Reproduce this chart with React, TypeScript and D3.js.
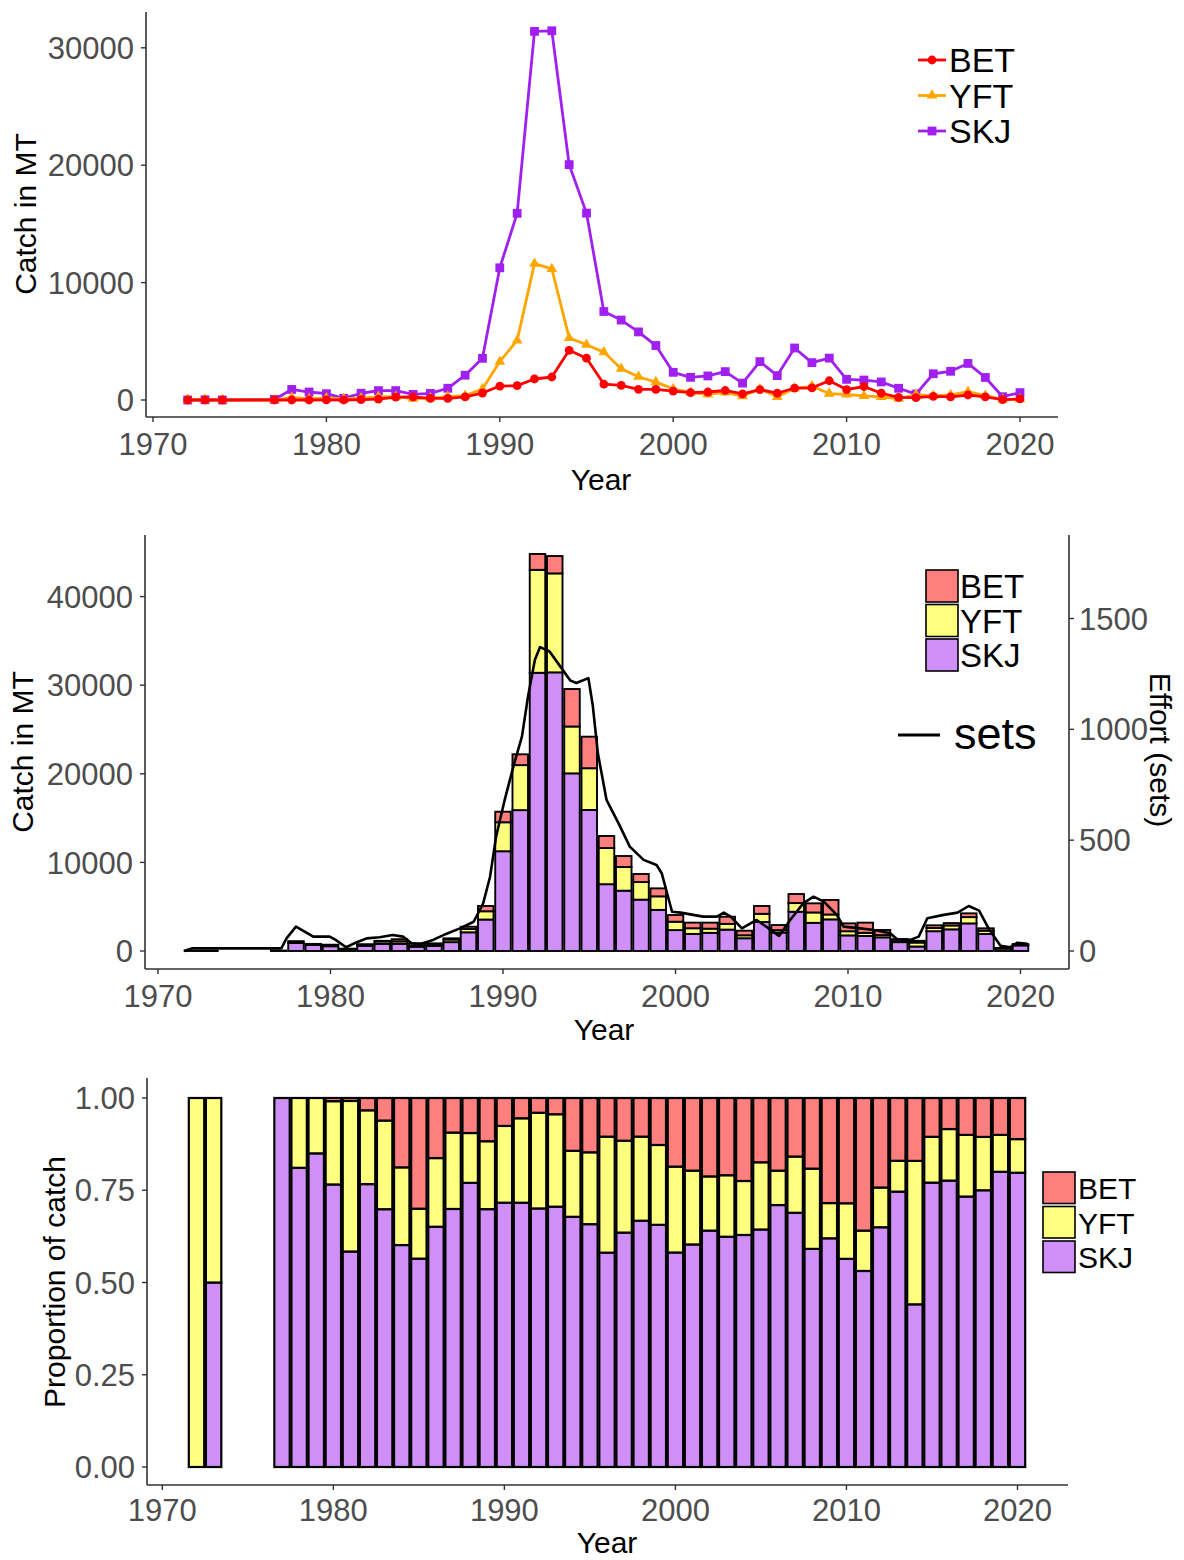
import React from "react";
import * as d3 from "d3";

const years = [1972,1973,1974,1977,1978,1979,1980,1981,1982,1983,1984,1985,1986,1987,1988,1989,1990,1991,1992,1993,1994,1995,1996,1997,1998,1999,2000,2001,2002,2003,2004,2005,2006,2007,2008,2009,2010,2011,2012,2013,2014,2015,2016,2017,2018,2019,2020];
const BET = [0,0,0,0,0,0,6,2,25,70,250,255,140,134,260,595,1190,1220,1790,1960,4230,3560,1360,1240,910,900,755,630,680,810,515,885,577,1020,1030,1640,890,1150,575,228,196,305,265,425,270,35,88];
const YFT = [30,20,0,0,210,120,158,102,150,275,280,115,160,296,370,935,3270,5080,11620,11170,5290,4710,4080,2670,1980,1530,945,640,470,645,335,925,273,980,1170,550,470,350,255,112,447,360,440,710,370,35,72];
const SKJ = [0,20,0,50,900,680,536,146,575,800,800,480,560,1000,2110,3550,11260,15900,31400,31450,20050,15920,7540,6810,5800,4640,2360,1930,2050,2415,1440,3270,2080,4430,3180,3570,1760,1700,1540,1000,507,2235,2445,3115,1920,280,630];

const effortYears = [1971.5,1972.0,1977.15,1977.45,1978.0,1978.5,1979.0,1979.95,1980.3,1980.9,1981.6,1982.1,1982.85,1983.6,1984.2,1984.7,1985.2,1985.95,1986.7,1987.5,1988.3,1988.85,1989.25,1989.6,1990.1,1990.6,1991.1,1991.45,1991.85,1992.15,1992.7,1993.4,1993.9,1994.25,1994.95,1995.2,1995.5,1996.0,1996.7,1997.35,1998.15,1998.9,1999.2,1999.8,2000.3,2001.6,2002.4,2002.8,2003.2,2003.85,2004.7,2005.4,2006.0,2006.65,2007.4,2008.0,2008.6,2009.35,2009.75,2010.7,2011.5,2012.45,2012.85,2013.6,2014.1,2014.6,2015.55,2016.35,2017.0,2017.6,2018.15,2018.85,2019.4,2019.8,2020.4];
const effortSets = [0,12,12,57,110,87,65,65,50,17,42,57,62,72,65,35,32,50,77,102,132,215,335,516,682,832,968,1148,1314,1371,1351,1275,1220,1209,1231,1110,892,682,576,471,411,388,351,177,173,155,155,173,155,102,140,102,68,140,215,245,223,163,110,102,95,80,53,50,65,148,163,173,203,182,102,23,17,37,32];

const xTicks = [1970,1980,1990,2000,2010,2020];
const topYTicks = [0,10000,20000,30000];
const midYTicks = [0,10000,20000,30000,40000];
const setsTicks = [0,500,1000,1500];
const propTicks = [0,0.25,0.5,0.75,1];
const species = ["BET","YFT","SKJ"];

const FONT = "'Liberation Sans', Arial, Helvetica, sans-serif";
const lineCol: Record<string,string> = { BET: "#FF0000", YFT: "#FFA500", SKJ: "#A020F0" };
const fillCol: Record<string,string> = { BET: "#FF7F7F", YFT: "#FFFF7F", SKJ: "#CF8FF7" };
const AX = "#333333";
const TXT = "#4D4D4D";

export default function App() {
  const xTop = d3.scaleLinear().domain([1970, 2020]).range([153, 1020]);
  const yTop = d3.scaleLinear().domain([0, 30000]).range([400, 47.8]);
  const xMid = d3.scaleLinear().domain([1970, 2020]).range([158, 1020.5]);
  const yMid = d3.scaleLinear().domain([0, 40000]).range([951, 596.6]);
  const ySets = d3.scaleLinear().domain([0, 1500]).range([951, 618.5]);
  const xBot = d3.scaleLinear().domain([1970, 2020]).range([162.3, 1017.5]);
  const yBot = d3.scaleLinear().domain([0, 1]).range([1467, 1098]);

  const seriesVals: Record<string, number[]> = { BET, YFT, SKJ };
  const rows = years.map((y, i) => ({ year: y, BET: BET[i], YFT: YFT[i], SKJ: SKJ[i] }));
  const stack = d3.stack<any>().keys(["SKJ", "YFT", "BET"]);
  const stacked = stack(rows);
  const propRows = rows
    .filter((r) => r.BET + r.YFT + r.SKJ > 0)
    .map((r) => {
      const t = r.BET + r.YFT + r.SKJ;
      return { year: r.year, BET: r.BET / t, YFT: r.YFT / t, SKJ: r.SKJ / t };
    });
  const propStacked = stack(propRows);

  const lineTop = (vals: number[]) =>
    d3.line<number>().x((_, i) => xTop(years[i])).y((d) => yTop(d))(vals) || "";
  const effortLine =
    d3.line<number>().x((_, i) => xMid(effortYears[i])).y((d) => ySets(d))(effortSets) || "";

  const tri = d3.symbol().type(d3.symbolTriangle).size(50)() || "";

  const marker = (sp: string, cx: number, cy: number, key: any) => {
    if (sp === "BET") return <circle key={key} cx={cx} cy={cy} r={4.4} fill={lineCol.BET} />;
    if (sp === "YFT") return <path key={key} d={tri} transform={`translate(${cx},${cy})`} fill={lineCol.YFT} />;
    return <rect key={key} x={cx - 4.4} y={cy - 4.4} width={8.8} height={8.8} fill={lineCol.SKJ} />;
  };

  const xAxis = (scale: any, y0: number, x0: number, x1: number, labelY: number, titleY: number, titleX: number) => (
    <g>
      <line x1={x0} x2={x1} y1={y0} y2={y0} stroke={AX} strokeWidth={1.6} />
      {xTicks.map((t) => (
        <g key={t}>
          <line x1={scale(t)} x2={scale(t)} y1={y0} y2={y0 + 5} stroke={AX} strokeWidth={1.4} />
          <text x={scale(t)} y={labelY} textAnchor="middle" fontSize={31} fill={TXT} fontFamily={FONT}>{t}</text>
        </g>
      ))}
      <text x={titleX} y={titleY} textAnchor="middle" fontSize={30} fill="#000" fontFamily={FONT}>Year</text>
    </g>
  );

  const yAxisLeft = (scale: any, ticks: number[], x0: number, yA: number, yB: number, fmt: (v: number) => string) => (
    <g>
      <line x1={x0} x2={x0} y1={yA} y2={yB} stroke={AX} strokeWidth={1.6} />
      {ticks.map((t) => (
        <g key={t}>
          <line x1={x0 - 5} x2={x0} y1={scale(t)} y2={scale(t)} stroke={AX} strokeWidth={1.4} />
          <text x={x0 - 12} y={scale(t)} dy="0.36em" textAnchor="end" fontSize={31} fill={TXT} fontFamily={FONT}>{fmt(t)}</text>
        </g>
      ))}
    </g>
  );

  const barW = 0.9;

  return (
    <svg width={1184} height={1560} style={{ position: "absolute", left: 0, top: 0, background: "#fff" }} fontFamily={FONT}>
      <rect x={0} y={0} width={1184} height={1560} fill="#fff" />

      {/* TOP PANEL */}
      {["SKJ", "YFT", "BET"].map((sp) => (
        <g key={sp}>
          <path d={lineTop(seriesVals[sp])} fill="none" stroke={lineCol[sp]} strokeWidth={2.8} strokeLinejoin="round" />
          {years.map((y, i) => marker(sp, xTop(y), yTop(seriesVals[sp][i]), `${sp}${y}`))}
        </g>
      ))}
      {yAxisLeft(yTop, topYTicks, 146, 12, 417, (v) => String(v))}
      {xAxis(xTop, 417, 146, 1058, 455, 490, 601)}
      <text transform="translate(36,214) rotate(-90)" textAnchor="middle" fontSize={30} fill="#000" fontFamily={FONT}>Catch in MT</text>
      {species.map((sp, i) => (
        <g key={sp}>
          <line x1={918} x2={946} y1={60 + i * 35.5} y2={60 + i * 35.5} stroke={lineCol[sp]} strokeWidth={2.8} />
          {marker(sp, 932, 60 + i * 35.5, "lg" + sp)}
          <text x={949} y={60 + i * 35.5} dy="0.36em" fontSize={34} fill="#000" fontFamily={FONT}>{sp}</text>
        </g>
      ))}

      {/* MIDDLE PANEL */}
      {stacked.map((layer: any) => (
        <g key={layer.key}>
          {layer.map((d: any, i: number) => (
            <rect
              key={i}
              x={xMid(d.data.year - barW / 2)}
              width={xMid(d.data.year + barW / 2) - xMid(d.data.year - barW / 2)}
              y={yMid(d[1])}
              height={Math.max(0, yMid(d[0]) - yMid(d[1]))}
              fill={fillCol[layer.key]}
              stroke="#000"
              strokeWidth={1.9}
            />
          ))}
        </g>
      ))}
      <path d={effortLine} fill="none" stroke="#000" strokeWidth={2.6} strokeLinejoin="round" />
      {yAxisLeft(yMid, midYTicks, 145, 535, 969, (v) => String(v))}
      <g>
        <line x1={1069} x2={1069} y1={535} y2={969} stroke={AX} strokeWidth={1.6} />
        {setsTicks.map((t) => (
          <g key={t}>
            <line x1={1069} x2={1074} y1={ySets(t)} y2={ySets(t)} stroke={AX} strokeWidth={1.4} />
            <text x={1079} y={ySets(t)} dy="0.36em" textAnchor="start" fontSize={31} fill={TXT} fontFamily={FONT}>{t}</text>
          </g>
        ))}
      </g>
      {xAxis(xMid, 969, 145, 1069, 1007, 1040, 604)}
      <text transform="translate(33,752) rotate(-90)" textAnchor="middle" fontSize={30} fill="#000" fontFamily={FONT}>Catch in MT</text>
      <text transform="translate(1150,750) rotate(90)" textAnchor="middle" fontSize={30} fill="#000" fontFamily={FONT}>Effort (sets)</text>
      {species.map((sp, i) => (
        <g key={sp}>
          <rect x={926} y={570 + i * 34.5} width={32} height={32} fill={fillCol[sp]} stroke="#000" strokeWidth={1.6} />
          <text x={960} y={587 + i * 34.5} dy="0.34em" fontSize={33} fill="#000" fontFamily={FONT}>{sp}</text>
        </g>
      ))}
      <line x1={898} x2={940} y1={735} y2={735} stroke="#000" strokeWidth={2.8} />
      <text x={954} y={733} dy="0.36em" fontSize={45} fill="#000" fontFamily={FONT}>sets</text>

      {/* BOTTOM PANEL */}
      {propStacked.map((layer: any) => (
        <g key={layer.key}>
          {layer.map((d: any, i: number) => (
            <rect
              key={i}
              x={xBot(d.data.year - barW / 2)}
              width={xBot(d.data.year + barW / 2) - xBot(d.data.year - barW / 2)}
              y={yBot(d[1])}
              height={Math.max(0, yBot(d[0]) - yBot(d[1]))}
              fill={fillCol[layer.key]}
              stroke="#000"
              strokeWidth={2.2}
            />
          ))}
        </g>
      ))}
      {yAxisLeft(yBot, propTicks, 147, 1078, 1485, (v) => v.toFixed(2))}
      {xAxis(xBot, 1485, 147, 1068, 1521, 1553, 607)}
      <text transform="translate(65,1282) rotate(-90)" textAnchor="middle" fontSize={30} fill="#000" fontFamily={FONT}>Proportion of catch</text>
      {species.map((sp, i) => (
        <g key={sp}>
          <rect x={1043} y={1172 + i * 34.5} width={32} height={31.5} fill={fillCol[sp]} stroke="#000" strokeWidth={1.6} />
          <text x={1078} y={1189 + i * 34.5} dy="0.34em" fontSize={30} fill="#000" fontFamily={FONT}>{sp}</text>
        </g>
      ))}
    </svg>
  );
}
